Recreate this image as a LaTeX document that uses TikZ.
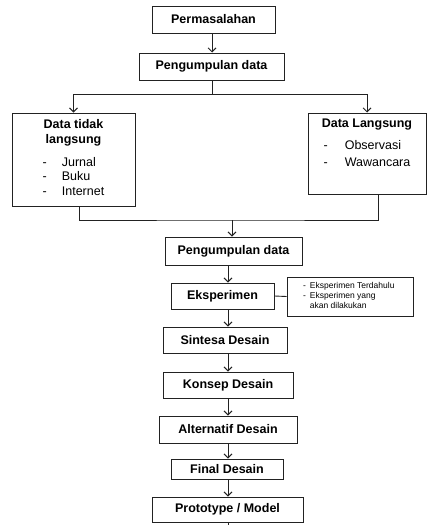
\documentclass[tikz,border=0pt]{standalone}
\usepackage{fontspec}
\setmainfont{Liberation Sans}
\usetikzlibrary{positioning,arrows.meta}
\definecolor{inkgray}{HTML}{222222}

\begin{document}
\begin{tikzpicture}[x=1pt, y=-1pt,
    flowBox/.style={rectangle, draw=inkgray, line width=1pt, inner sep=0pt, align=center, font=\fontsize{12.5}{15}\selectfont\bfseries},
    dataBox/.style={rectangle, draw=inkgray, line width=1pt, inner sep=0pt, align=center, font=\fontsize{12.5}{14.5}\selectfont},
    noteBox/.style={rectangle, draw=inkgray, line width=0.9pt, inner sep=0pt, align=left, font=\fontsize{8.5}{10}\selectfont},
    arrowFlow/.style={-{Straight Barb[length=4pt,width=8pt]}, line width=0.9pt, draw=inkgray},
    lineFlow/.style={line width=0.9pt, draw=inkgray}
]
    \useasboundingbox (0,0) rectangle (427,525);

    % upper part
    \node[flowBox, minimum width=123, minimum height=27] (perm) at (213.5,19.5) {Permasalahan};
    \node[flowBox, minimum width=145, minimum height=27] (kumpulA) at (211.5,66.5) {Pengumpulan data};

    \node[dataBox, minimum width=123, minimum height=93] (tidak) at (73.5,159.5) {
        \textbf{Data tidak}\\\textbf{langsung}\\[9pt]
        \begin{tabular}{@{}l@{\hspace{15pt}}l@{}}
        - & Jurnal\\
        - & Buku\\
        - & Internet
        \end{tabular}
    };

    \node[dataBox, minimum width=118, minimum height=81] (langsung) at (367,153.5) {
        \textbf{Data Langsung}\\[6pt]
        \renewcommand{\arraystretch}{1.2}%
        \begin{tabular}{@{}l@{\hspace{17pt}}l@{}}
        - & Observasi\\
        - & Wawancara
        \end{tabular}\\[16pt]\mbox{}
    };

    % lower column
    \coordinate (axis) at (228,0);
    \node[flowBox, minimum width=137, minimum height=28] (kumpulB) at (233.5,251) {Pengumpulan data};
    \node[flowBox, minimum width=103, minimum height=26] (eksp) at (222.5,296) {Eksperimen};
    \node[noteBox, minimum width=126, minimum height=39] (catatan) at (350,296.5) {
        \begin{tabular}{@{}l@{\hspace{4pt}}l@{}}
        - & Eksperimen Terdahulu\\
        - & Eksperimen yang\\
          & akan dilakukan
        \end{tabular}
    };
    \node[flowBox, minimum width=124, minimum height=26] (sintesa) at (225,340) {Sintesa Desain};
    \node[flowBox, minimum width=130, minimum height=26] (konsep) at (228,385) {Konsep Desain};
    \node[flowBox, minimum width=138, minimum height=27] (alter) at (228,429.5) {Alternatif Desain};
    \node[flowBox, minimum width=112, minimum height=20] (final) at (227,469) {Final Desain};
    \node[flowBox, minimum width=151, minimum height=25] (proto) at (227.5,509.5) {Prototype / Model};

    % connectors
    \coordinate (split) at (212,94);
    \draw[arrowFlow] (perm.south -| split) -- (kumpulA.north -| split);
    \draw[lineFlow] (kumpulA.south -| split) -- (split);
    \draw[arrowFlow] (split) -| (tidak.north);
    \draw[arrowFlow] (split) -| (langsung.north);

    \coordinate (join) at (232,220);
    \draw[lineFlow] ([xshift=5.5pt]tidak.south) |- (join) -| ([xshift=11pt]langsung.south);
    \draw[arrowFlow] (join) -- (join |- kumpulB.north);

    \draw[arrowFlow] (kumpulB.south -| axis) -- (eksp.north -| axis);
    \draw[lineFlow] (eksp.east) -- (catatan.west);
    \draw[arrowFlow] (eksp.south -| axis) -- (sintesa.north -| axis);
    \draw[arrowFlow] (sintesa.south -| axis) -- (konsep.north -| axis);
    \draw[arrowFlow] (konsep.south -| axis) -- (alter.north -| axis);
    \draw[arrowFlow] (alter.south -| axis) -- (final.north -| axis);
    \draw[arrowFlow] (final.south -| axis) -- (proto.north -| axis);
    \coordinate (tail) at (228,530);
    \draw[lineFlow] (proto.south -| axis) -- (tail);
\end{tikzpicture}
\end{document}
